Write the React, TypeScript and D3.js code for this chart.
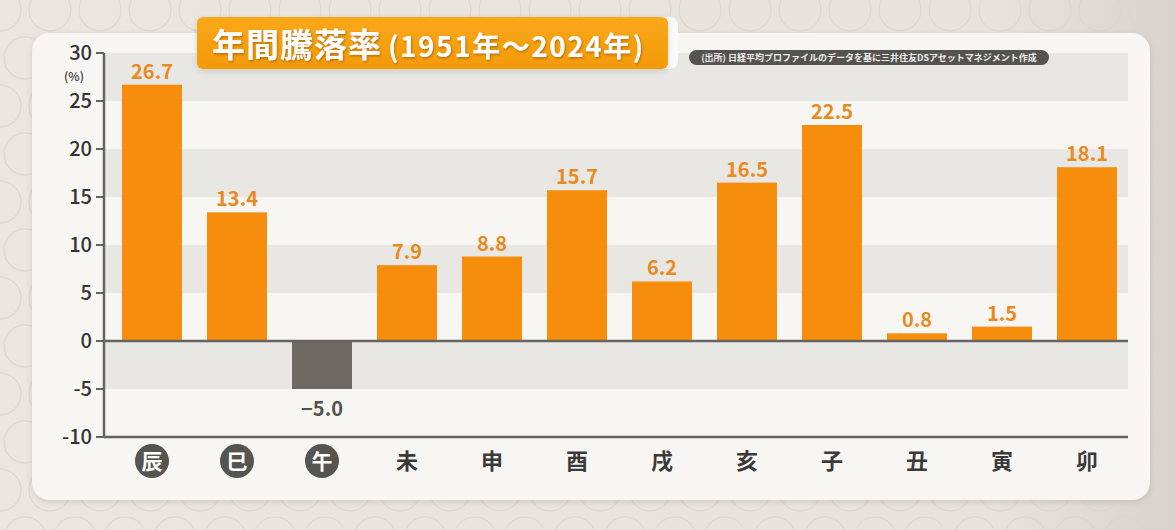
import React from "react";
import * as d3 from "d3";

const categories = ["辰", "巳", "午", "未", "申", "酉", "戌", "亥", "子", "丑", "寅", "卯"];
const values = [26.7, 13.4, -5.0, 7.9, 8.8, 15.7, 6.2, 16.5, 22.5, 0.8, 1.5, 18.1];
const circledCategories = ["辰", "巳", "午"];
const yTicks = [30, 25, 20, 15, 10, 5, 0, -5, -10];
const titleMain = "年間騰落率";
const titleSub = "(1951年〜2024年)";
const sourceText = "(出所) 日経平均プロファイルのデータを基に三井住友DSアセットマネジメント作成";
const unitLabel = "(%)";

const W = 1175;
const H = 530;
const FONT = "'Noto Sans CJK JP', 'Noto Sans', sans-serif";

export default function App() {
  const x0 = 104;
  const x1 = 1128;
  const y = d3.scaleLinear().domain([-10, 30]).range([437, 53]);
  const pad = 25 / 85;
  const x = d3
    .scaleBand<string>()
    .domain(categories)
    .range([109.5, 109.5 + 12 * 85])
    .paddingInner(pad)
    .paddingOuter(pad / 2);

  const bands: [number, number][] = [
    [25, 30],
    [15, 20],
    [5, 10],
    [-5, 0],
  ];

  const rings: { cx: number; cy: number }[] = [];
  for (let r = 0; r < 12; r++) {
    for (let c = 0; c < 26; c++) {
      rings.push({ cx: c * 50 + (r % 2 ? 25 : 0), cy: r * 48 + 10 });
    }
  }

  return (
    <svg
      width={W}
      height={H}
      style={{ position: "absolute", left: 0, top: 0 }}
      fontFamily={FONT}
    >
      <defs>
        <linearGradient id="bg" x1="0" x2="1" y1="0" y2="0">
          <stop offset="0" stopColor="#ece6e0" />
          <stop offset="0.85" stopColor="#e8e2dc" />
          <stop offset="1" stopColor="#d9d3cd" />
        </linearGradient>
        <linearGradient id="badge" x1="0" x2="0" y1="0" y2="1">
          <stop offset="0" stopColor="#f9a81a" />
          <stop offset="1" stopColor="#f39a06" />
        </linearGradient>
        <filter id="shadow" x="-5%" y="-5%" width="110%" height="115%">
          <feDropShadow dx="0" dy="2" stdDeviation="3" floodColor="#000" floodOpacity="0.12" />
        </filter>
        <filter id="tshadow" x="-5%" y="-20%" width="110%" height="140%">
          <feDropShadow dx="1" dy="1.5" stdDeviation="0.8" floodColor="#b86a00" floodOpacity="0.9" />
        </filter>
      </defs>

      <rect x={0} y={0} width={W} height={H} fill="url(#bg)" />
      <g fill="none" stroke="#ddd4cb" strokeWidth={1.4} opacity={0.7}>
        {rings.map((r, i) => (
          <circle key={i} cx={r.cx} cy={r.cy} r={21} />
        ))}
      </g>

      {/* card */}
      <rect x={32} y={33} width={1118} height={467} rx={18} fill="#f8f6f3" filter="url(#shadow)" />

      {/* bands */}
      {bands.map(([a, b], i) => (
        <rect key={i} x={x0} y={y(b)} width={x1 - x0} height={y(a) - y(b)} fill="#e9e7e4" />
      ))}

      {/* bars */}
      {values.map((v, i) => {
        const c = categories[i];
        const top = Math.min(y(v), y(0));
        const h = Math.abs(y(v) - y(0));
        return (
          <rect
            key={c}
            x={x(c)}
            y={top}
            width={x.bandwidth()}
            height={h}
            fill={v >= 0 ? "#f78d0c" : "#6c6a63"}
          />
        );
      })}

      {/* value labels */}
      {values.map((v, i) => {
        const c = categories[i];
        const cx = (x(c) as number) + x.bandwidth() / 2;
        const neg = v < 0;
        return (
          <text
            key={c}
            x={cx}
            y={neg ? y(v) + 27 : y(v) - 6}
            textAnchor="middle"
            fontSize={20}
            fontWeight={700}
            fill={neg ? "#55534f" : "#ea8a1c"}
          >
            {v.toFixed(1).replace("-", "−")}
          </text>
        );
      })}

      {/* axes */}
      <line x1={x0} x2={x1} y1={y(0)} y2={y(0)} stroke="#666460" strokeWidth={2.5} />
      <line x1={x0} x2={x1} y1={y(-10)} y2={y(-10)} stroke="#666460" strokeWidth={2.5} />
      <line x1={x0} x2={x0} y1={y(30)} y2={y(-10)} stroke="#666460" strokeWidth={2.5} />
      {yTicks.map((t) => (
        <g key={t}>
          <line x1={96} x2={x0} y1={y(t)} y2={y(t)} stroke="#666460" strokeWidth={2} />
          <text
            x={92}
            y={y(t) + 7}
            textAnchor="end"
            fontSize={20}
            fontWeight={500}
            fill="#333"
          >
            {t < 0 ? "-" + Math.abs(t) : t}
          </text>
        </g>
      ))}
      <text x={74} y={81} textAnchor="middle" fontSize={12} fontWeight={500} fill="#333">
        {unitLabel}
      </text>

      {/* category labels */}
      {categories.map((c) => {
        const cx = (x(c) as number) + x.bandwidth() / 2;
        const circled = circledCategories.includes(c);
        return (
          <g key={c}>
            {circled && <circle cx={cx} cy={461} r={17} fill="#56544f" />}
            <text
              x={cx}
              y={469}
              textAnchor="middle"
              fontSize={circled ? 21 : 22}
              fontWeight={700}
              fill={circled ? "#fff" : "#3a3a3a"}
            >
              {c}
            </text>
          </g>
        );
      })}

      {/* title badge */}
      <rect x={200} y={17} width={478} height={52} rx={8} fill="#fbfaf8" />
      <rect x={197} y={17} width={471} height={52} rx={6} fill="url(#badge)" filter="url(#shadow)" />
      <text x={212} y={57} fill="#fff" fontWeight={700} filter="url(#tshadow)">
        <tspan fontSize={33} letterSpacing={1}>{titleMain}</tspan>
        <tspan fontSize={28} dx={6} letterSpacing={1.5}>{titleSub}</tspan>
      </text>

      {/* source pill */}
      <rect x={689} y={50} width={360} height={15} rx={7.5} fill="#55534f" />
      <text x={869} y={61} textAnchor="middle" fontSize={9} fontWeight={700} fill="#eee">
        {sourceText}
      </text>
    </svg>
  );
}
